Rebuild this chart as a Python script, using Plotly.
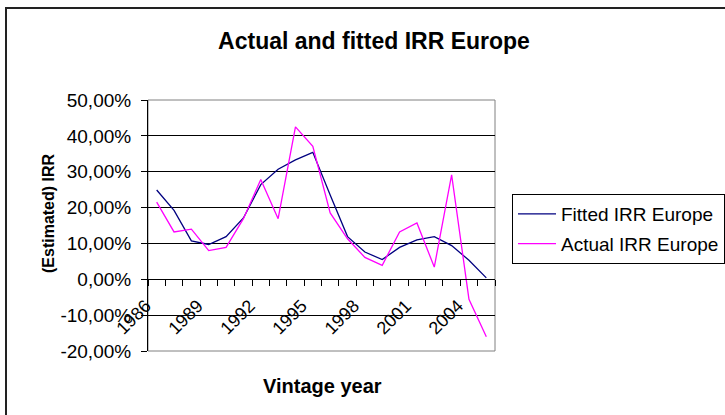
import plotly.graph_objects as go

# Vintage years (one category per year)
years = [1986, 1987, 1988, 1989, 1990, 1991, 1992, 1993, 1994, 1995,
         1996, 1997, 1998, 1999, 2000, 2001, 2002, 2003, 2004, 2005]

# IRR in percent
fitted_irr = [24.9, 19.2, 10.7, 9.7, 11.9, 17.1, 26.4, 30.7, 33.3, 35.4,
              23.5, 11.9, 7.6, 5.5, 8.9, 11.0, 11.9, 9.4, 5.3, 0.4]
actual_irr = [21.5, 13.2, 14.0, 8.0, 8.9, 16.9, 27.8, 16.9, 42.5, 37.1,
              18.5, 11.3, 6.1, 3.9, 13.2, 15.7, 3.4, 29.1, -5.6, -16.0]

# Labelled years on the category axis
tick_years = [1986, 1989, 1992, 1995, 1998, 2001, 2004]
tick_labels = ["1986", "1989", "1992", "1995", "1998", "2001", "2004"]

# Value axis ticks (percent) and their labels
y_ticks = [-20, -10, 0, 10, 20, 30, 40, 50]
y_labels = ["-20,00%", "-10,00%", "0,00%", "10,00%", "20,00%",
            "30,00%", "40,00%", "50,00%"]

FONT = "Liberation Sans, Arial, sans-serif"

fig = go.Figure()
fig.add_trace(go.Scatter(
    x=years, y=fitted_irr, mode="lines", name="Fitted IRR Europe",
    line=dict(color="#000080", width=1.3), legendgroup="fitted",
))
fig.add_trace(go.Scatter(
    x=years, y=actual_irr, mode="lines", name="Actual IRR Europe",
    line=dict(color="#FF00FF", width=1.3), legendgroup="actual",
))

W, H = 725, 415
L, R, T, B = 148, 230, 100, 64
pw, ph = W - L - R, H - T - B


def px_x(p):
    return (p - L) / pw


def px_y(p):
    return (H - B - p) / ph


fig.update_layout(
    width=W, height=H,
    margin=dict(l=L, r=R, t=T, b=B, autoexpand=False),
    paper_bgcolor="white", plot_bgcolor="white",
    font=dict(family=FONT, color="black", size=18),
    title=dict(text="<b>Actual and fitted IRR Europe</b>",
               x=374 / W, xanchor="center", y=1 - 41 / H, yanchor="middle",
               font=dict(size=23, family=FONT, color="black")),
    showlegend=True,
    legend=dict(x=px_x(512), y=px_y(194), xanchor="left", yanchor="top",
                bgcolor="white", bordercolor="black", borderwidth=1,
                font=dict(size=19, family=FONT), tracegroupgap=2,
                traceorder="grouped", itemwidth=38),
    xaxis=dict(
        range=[years[0] - 0.5, years[-1] + 0.5],
        anchor="free", position=20 / 70,
        tickmode="array", tickvals=tick_years, ticktext=tick_labels,
        tickangle=-45, ticks="", showgrid=False, zeroline=False,
        showline=True, linecolor="black", linewidth=1,
        tickfont=dict(size=18, family=FONT),
        ticklabelstandoff=8, ticklabelshift=-11,
        minor=dict(tickmode="linear", tick0=years[0] - 0.5, dtick=1,
                   ticks="outside", ticklen=6, tickcolor="black",
                   showgrid=False),
    ),
    yaxis=dict(
        range=[-20, 50],
        tickmode="array", tickvals=y_ticks, ticktext=y_labels,
        ticks="outside", ticklen=6, tickcolor="black",
        ticklabelstandoff=6,
        showline=True, linecolor="black", linewidth=1,
        showgrid=True, gridcolor="#000000", gridwidth=1,
        zeroline=False,
        tickfont=dict(size=19, family=FONT),
    ),
    shapes=[
        # plot-area frame
        dict(type="rect", xref="paper", yref="paper", x0=0, x1=1, y0=0, y1=1,
             line=dict(color="#808080", width=1), layer="below"),
        # chart-area frame
        dict(type="rect", xref="paper", yref="paper",
             x0=px_x(6), x1=px_x(740), y0=px_y(430), y1=px_y(8),
             line=dict(color="#222222", width=2), layer="below"),
    ],
    annotations=[
        dict(text="<b>(Estimated) IRR</b>", xref="paper", yref="paper",
             x=px_x(48), y=px_y(213), xanchor="center", yanchor="middle",
             textangle=-90, showarrow=False,
             font=dict(size=16, family=FONT, color="black")),
        dict(text="<b>Vintage year</b>", xref="paper", yref="paper",
             x=px_x(322), y=px_y(386), xanchor="center", yanchor="middle",
             showarrow=False,
             font=dict(size=20, family=FONT, color="black")),
    ],
)

fig.write_html("out.html")
